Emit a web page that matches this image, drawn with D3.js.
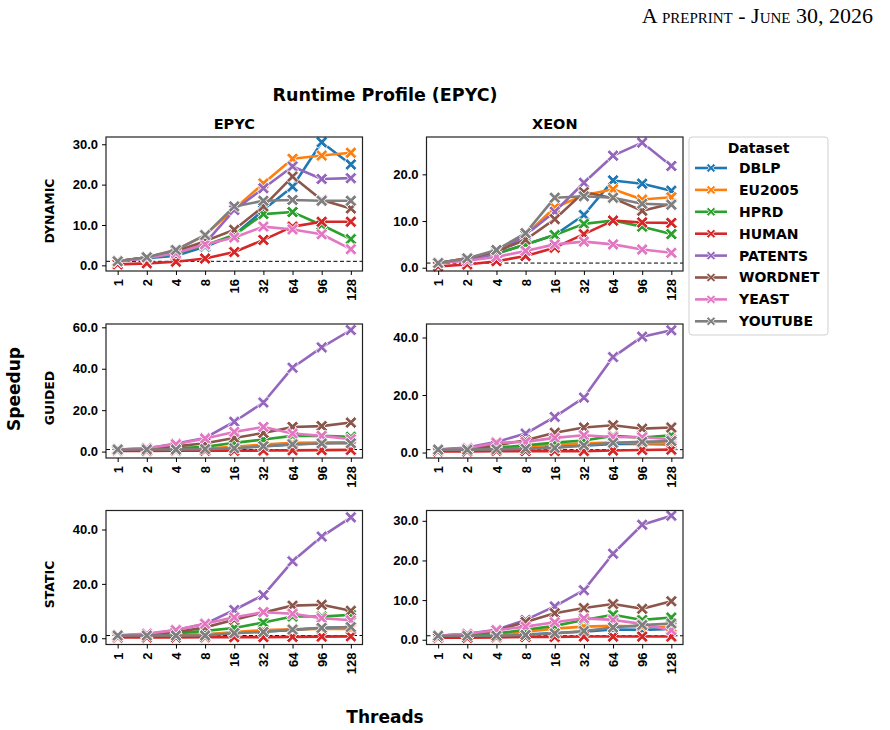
<!DOCTYPE html>
<html lang="en">
<head>
    <meta charset="UTF-8" />
    <title>Runtime Profile (EPYC)</title>
    <script src="https://d3js.org/d3.v7.min.js"></script>
    <style>
        body {
            margin: 0;
            background: #fff;
            font-family: 'DejaVu Sans', sans-serif;
        }
        .tick text {
            font-weight: bold;
            font-size: 13px;
            fill: #000;
        }
    </style>
</head>
<body>
    <script>
        // data
        const threads = ['1', '2', '4', '8', '16', '32', '64', '96', '128'];
        const datasets = ['DBLP', 'EU2005', 'HPRD', 'HUMAN', 'PATENTS', 'WORDNET', 'YEAST', 'YOUTUBE'];
        const colors = ['#1f77b4', '#ff7f0e', '#2ca02c', '#d62728', '#9467bd', '#8c564b', '#e377c2', '#7f7f7f'];
        const machines = ['EPYC', 'XEON'];
        const schedules = ['DYNAMIC', 'GUIDED', 'STATIC'];

        // speedup per dataset, same order as datasets
        const epycDynamic = [
            [1.0, 1.8, 2.4, 4.6, 7.5, 13.7, 19.5, 30.5, 25.0],
            [1.0, 2.0, 3.8, 7.5, 14.0, 20.3, 26.4, 27.2, 27.9],
            [1.0, 1.9, 3.0, 5.0, 7.5, 12.7, 13.2, 10.0, 6.5],
            [0.25, 0.5, 0.9, 1.7, 3.3, 6.3, 9.6, 10.8, 10.8],
            [1.0, 2.0, 3.5, 5.5, 13.7, 19.1, 24.5, 21.4, 21.6],
            [1.0, 2.0, 3.5, 6.0, 8.8, 14.6, 22.0, 16.2, 14.1],
            [0.9, 1.8, 3.0, 5.2, 6.9, 9.6, 8.9, 7.7, 4.0],
            [1.0, 2.0, 3.8, 7.5, 14.6, 16.0, 16.2, 16.0, 16.0]
        ];
        const xeonDynamic = [
            [1.0, 1.8, 3.0, 5.0, 7.0, 11.3, 18.7, 18.0, 16.5],
            [1.0, 2.0, 3.5, 7.0, 12.9, 15.5, 16.8, 14.6, 15.1],
            [1.0, 1.8, 3.0, 5.0, 7.0, 9.4, 10.1, 8.8, 7.2],
            [0.3, 0.7, 1.4, 2.5, 4.3, 7.2, 10.1, 9.7, 9.6],
            [1.0, 1.8, 3.0, 7.0, 12.0, 18.2, 24.0, 26.8, 21.8],
            [1.0, 2.0, 3.5, 6.0, 10.4, 16.2, 14.9, 12.2, 13.7],
            [1.0, 1.5, 2.3, 3.6, 5.0, 5.6, 5.0, 3.9, 3.2],
            [1.0, 2.0, 3.8, 7.4, 15.0, 15.3, 15.0, 13.7, 13.5]
        ];
        const epycGuided = [
            [1.0, 1.0, 1.1, 1.3, 1.8, 2.5, 3.5, 4.2, 4.4],
            [1.0, 1.0, 1.2, 1.5, 2.3, 3.4, 4.2, 4.4, 4.2],
            [1.0, 1.2, 1.6, 2.3, 4.2, 5.8, 7.6, 7.6, 7.1],
            [0.3, 0.3, 0.4, 0.4, 0.4, 0.5, 0.6, 0.7, 0.8],
            [1.0, 1.5, 3.9, 6.6, 14.4, 23.7, 40.5, 50.3, 58.7],
            [1.0, 1.3, 2.5, 4.0, 6.6, 9.0, 11.9, 12.3, 14.0],
            [1.0, 1.7, 3.5, 6.3, 9.5, 11.9, 8.7, 7.6, 6.0],
            [1.0, 1.0, 1.0, 1.2, 1.6, 2.6, 3.5, 3.9, 4.0]
        ];
        const xeonGuided = [
            [1.0, 1.0, 1.1, 1.4, 2.0, 2.4, 3.0, 3.0, 2.8],
            [1.0, 1.1, 1.3, 2.0, 2.8, 3.2, 3.5, 3.2, 3.2],
            [1.0, 1.2, 1.7, 2.5, 3.5, 4.2, 5.8, 5.2, 6.0],
            [0.4, 0.4, 0.5, 0.5, 0.5, 0.5, 0.7, 0.9, 1.0],
            [1.0, 1.7, 3.7, 6.6, 12.4, 19.1, 33.2, 40.3, 42.5],
            [1.0, 1.5, 2.5, 4.3, 6.9, 8.7, 9.5, 8.3, 8.7],
            [1.0, 1.5, 3.4, 3.7, 5.1, 6.0, 5.4, 5.3, 4.6],
            [1.0, 1.0, 1.1, 1.3, 1.6, 2.5, 3.4, 3.7, 4.0]
        ];
        const epycStatic = [
            [1.0, 1.0, 1.1, 1.4, 2.0, 2.5, 3.0, 3.8, 4.0],
            [1.0, 1.0, 1.1, 1.4, 2.3, 3.0, 3.3, 3.4, 3.4],
            [1.0, 1.2, 1.8, 2.7, 3.8, 5.8, 8.0, 8.0, 8.6],
            [0.3, 0.3, 0.3, 0.4, 0.4, 0.4, 0.5, 0.6, 0.7],
            [1.0, 1.5, 3.0, 5.3, 10.4, 15.9, 28.3, 37.4, 44.5],
            [1.0, 1.3, 2.2, 4.0, 6.8, 9.5, 12.0, 12.3, 10.1],
            [1.0, 1.7, 3.0, 5.3, 7.7, 9.6, 9.0, 7.4, 6.6],
            [1.0, 1.0, 1.0, 1.0, 1.9, 2.3, 3.2, 3.8, 4.1]
        ];
        const xeonStatic = [
            [1.0, 1.0, 1.0, 1.3, 1.7, 2.0, 2.6, 2.5, 2.7],
            [1.0, 1.0, 1.2, 2.0, 2.8, 3.3, 3.5, 3.3, 3.2],
            [1.0, 1.2, 1.6, 2.5, 3.5, 5.0, 6.3, 5.0, 5.6],
            [0.5, 0.5, 0.6, 0.7, 0.7, 0.8, 0.8, 0.8, 0.8],
            [1.0, 1.5, 2.5, 5.0, 8.4, 12.5, 21.7, 29.0, 31.3],
            [1.0, 1.4, 2.3, 4.5, 6.7, 8.0, 9.0, 7.8, 9.7],
            [1.0, 1.5, 2.4, 3.3, 4.4, 5.4, 5.0, 4.0, 2.4],
            [1.0, 1.0, 1.0, 1.2, 1.6, 2.2, 3.1, 3.7, 4.1]
        ];

        // panels: rows = schedules, cols = machines
        const panelData = [
            [epycDynamic, xeonDynamic],
            [epycGuided, xeonGuided],
            [epycStatic, xeonStatic]
        ];
        const yTicks = [
            [[0, 10, 20, 30], [0, 10, 20]],
            [[0, 20, 40, 60], [0, 20, 40]],
            [[0, 20, 40], [0, 10, 20, 30]]
        ];
        const yDomains = [
            [[-1.4, 31.8], [-0.7, 28.0]],
            [[-3.1, 61.6], [-1.9, 44.7]],
            [[-2.3, 47.0], [-1.2, 32.6]]
        ];

        const width = 890;
        const height = 730;
        const colX = [106, 426.5];
        const rowY = [137, 324, 510.5];
        const pw = 256.5;
        const ph = 134;

        const svg = d3.select('body').append('svg').attr('width', width).attr('height', height);

        // header
        svg.append('text')
            .attr('x', 873)
            .attr('y', 23)
            .attr('text-anchor', 'end')
            .style('font-family', "'Liberation Serif', serif")
            .style('font-size', '22px')
            .style('font-variant', 'small-caps')
            .text('A preprint - June 30, 2026');

        svg.append('text')
            .attr('x', 385)
            .attr('y', 101)
            .attr('text-anchor', 'middle')
            .style('font-weight', 'bold')
            .style('font-size', '17.5px')
            .text('Runtime Profile (EPYC)');

        svg.append('text')
            .attr('transform', 'translate(14,389) rotate(-90)')
            .attr('dy', '0.35em')
            .attr('text-anchor', 'middle')
            .style('font-weight', 'bold')
            .style('font-size', '17px')
            .text('Speedup');

        svg.append('text')
            .attr('x', 385)
            .attr('y', 723)
            .attr('text-anchor', 'middle')
            .style('font-weight', 'bold')
            .style('font-size', '17px')
            .text('Threads');

        // X marker like matplotlib 'X'
        function xMarker(s, t) {
            const p = [
                [0, -t], [s - t, -s], [s, -s + t], [t, 0], [s, s - t], [s - t, s],
                [0, t], [-s + t, s], [-s, s - t], [-t, 0], [-s, -s + t], [-s + t, -s]
            ];
            return 'M' + p.map((d) => d.join(',')).join('L') + 'Z';
        }
        const markerPath = xMarker(6, 2.4);

        const x = d3.scalePoint().domain(threads).padding(0.4);

        schedules.forEach((sched, r) => {
            machines.forEach((mach, c) => {
                const g = svg.append('g').attr('transform', `translate(${colX[c]},${rowY[r]})`);
                const xs = x.copy().range([0, pw]);
                const y = d3.scaleLinear().domain(yDomains[r][c]).range([ph, 0]);

                // reference line at 1
                g.append('line')
                    .attr('x1', 0)
                    .attr('x2', pw)
                    .attr('y1', y(1))
                    .attr('y2', y(1))
                    .attr('stroke', '#000')
                    .attr('stroke-width', 1)
                    .attr('stroke-dasharray', '4,2.5');

                const line = d3.line()
                    .x((d, i) => xs(threads[i]))
                    .y((d) => y(d));

                panelData[r][c].forEach((vals, k) => {
                    g.append('path')
                        .datum(vals)
                        .attr('d', line)
                        .attr('fill', 'none')
                        .attr('stroke', colors[k])
                        .attr('stroke-width', 2.6)
                        .attr('stroke-linejoin', 'round');
                    g.selectAll(null)
                        .data(vals)
                        .enter()
                        .append('path')
                        .attr('d', markerPath)
                        .attr('transform', (d, i) => `translate(${xs(threads[i])},${y(d)})`)
                        .attr('fill', colors[k])
                        .attr('stroke', '#fff')
                        .attr('stroke-width', 0.9);
                });

                // frame
                g.append('rect')
                    .attr('width', pw)
                    .attr('height', ph)
                    .attr('fill', 'none')
                    .attr('stroke', '#222')
                    .attr('stroke-width', 1.2);

                // axes
                const yAxis = g.append('g')
                    .call(d3.axisLeft(y).tickValues(yTicks[r][c]).tickFormat(d3.format('.1f')).tickSize(4).tickPadding(4));
                yAxis.select('.domain').remove();

                const xAxis = g.append('g')
                    .attr('transform', `translate(0,${ph})`)
                    .call(d3.axisBottom(xs).tickSize(4).tickPadding(4));
                xAxis.select('.domain').remove();
                xAxis.selectAll('text')
                    .attr('transform', 'rotate(-90)')
                    .attr('text-anchor', 'end')
                    .attr('x', -8)
                    .attr('y', 0)
                    .attr('dy', '0.35em');

                if (r === 0) {
                    g.append('text')
                        .attr('x', pw / 2)
                        .attr('y', -8)
                        .attr('text-anchor', 'middle')
                        .style('font-weight', 'bold')
                        .style('font-size', '14.5px')
                        .text(mach);
                }
                if (c === 0) {
                    g.append('text')
                        .attr('transform', `translate(-56,${ph / 2 + 7}) rotate(-90)`)
                        .attr('dy', '0.35em')
                        .attr('text-anchor', 'middle')
                        .style('font-weight', 'bold')
                        .style('font-size', '12.5px')
                        .text(sched);
                }
            });
        });

        // legend
        const lg = svg.append('g').attr('transform', 'translate(689,137)');
        lg.append('rect')
            .attr('width', 139)
            .attr('height', 198)
            .attr('rx', 3)
            .attr('fill', '#fff')
            .attr('stroke', '#d0d0d0');
        lg.append('text')
            .attr('x', 69.5)
            .attr('y', 16)
            .attr('text-anchor', 'middle')
            .style('font-weight', 'bold')
            .style('font-size', '14px')
            .text('Dataset');
        datasets.forEach((name, k) => {
            const cy = 31 + k * 21.9;
            lg.append('line')
                .attr('x1', 6)
                .attr('x2', 38)
                .attr('y1', cy)
                .attr('y2', cy)
                .attr('stroke', colors[k])
                .attr('stroke-width', 2.6);
            lg.append('path')
                .attr('d', xMarker(4.5, 1.8))
                .attr('transform', `translate(22,${cy})`)
                .attr('fill', colors[k])
                .attr('stroke', '#fff')
                .attr('stroke-width', 0.8);
            lg.append('text')
                .attr('x', 50)
                .attr('y', cy)
                .attr('dy', '0.35em')
                .style('font-weight', 'bold')
                .style('font-size', '14px')
                .text(name);
        });
    </script>
</body>
</html>
